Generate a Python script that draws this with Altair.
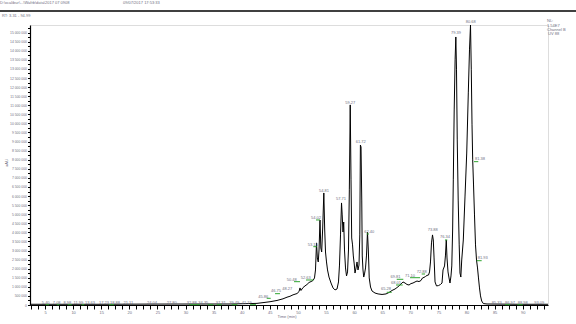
import altair as alt
import pandas as pd

# ---- chromatogram trace (time in min, intensity in millions of uAU) ----
trace_time = [2.33, 7.67, 14.79, 23.68, 32.58, 37.92, 41.48, 42.72, 43.79, 45.04,
              46.28, 47.35, 48.06, 48.59, 49.13, 49.84, 50.20, 50.37, 50.55, 50.91,
              51.26, 51.62, 51.98, 52.33, 52.69, 52.95, 53.13, 53.31, 53.46, 53.62,
              53.76, 53.93, 54.08, 54.23, 54.41, 54.61, 54.77, 54.91, 55.09, 55.27,
              55.53, 55.89, 56.25, 56.60, 56.96, 57.22, 57.40, 57.58, 57.76, 57.88,
              58.02, 58.15, 58.29, 58.47, 58.65, 58.83, 59.00, 59.15, 59.31, 59.45,
              59.57, 59.72, 59.86, 60.02, 60.16, 60.34, 60.52, 60.69, 60.87, 61.01,
              61.12, 61.23, 61.36, 61.45, 61.58, 61.71, 61.85, 62.03, 62.21, 62.38,
              62.53, 62.69, 62.92, 63.19, 63.72, 64.26, 64.97, 65.68, 66.21, 66.74,
              67.28, 67.63, 67.99, 68.35, 68.70, 69.06, 69.41, 69.77, 70.12, 70.48,
              70.84, 71.19, 71.55, 71.90, 72.17, 72.44, 72.70, 72.97, 73.24, 73.42,
              73.59, 73.77, 73.95, 74.09, 74.22, 74.40, 74.66, 75.02, 75.37, 75.64,
              75.82, 76.09, 76.26, 76.40, 76.53, 76.71, 76.89, 77.06, 77.24, 77.38,
              77.53, 77.65, 77.81, 77.97, 78.10, 78.22, 78.35, 78.52, 78.70, 78.84,
              78.99, 79.15, 79.43, 79.73, 80.04, 80.32, 80.53, 80.71, 80.85, 80.98,
              81.10, 81.25, 81.42, 81.60, 81.78, 81.96, 82.13, 82.31, 82.49, 82.70,
              82.99, 83.65, 89.52, 94.50]
trace_uau_m = [0.04, 0.04, 0.04, 0.05, 0.055, 0.055, 0.08, 0.09, 0.13, 0.18,
               0.25, 0.34, 0.43, 0.48, 0.56, 0.63, 0.74, 0.94, 0.80, 0.96,
               1.05, 1.13, 1.24, 1.29, 1.35, 1.49, 1.93, 3.42, 2.59, 2.37,
               3.03, 4.68, 3.14, 2.92, 4.24, 6.17, 4.13, 2.92, 2.37, 1.93,
               1.54, 1.21, 0.94, 0.83, 0.88, 1.27, 2.20, 3.86, 5.62, 4.96,
               4.02, 4.57, 3.03, 2.04, 1.60, 1.82, 3.03, 6.34, 11.02, 6.89,
               3.69, 3.31, 2.70, 2.26, 1.76, 2.04, 2.37, 1.93, 2.20, 3.86,
               8.81, 8.70, 5.78, 2.70, 1.93, 1.54, 1.71, 2.04, 2.75, 4.02,
               3.03, 1.49, 0.99, 0.77, 0.66, 0.61, 0.58, 0.61, 0.69, 0.80,
               0.88, 0.96, 1.05, 1.16, 1.27, 1.21, 1.13, 1.10, 1.18, 1.21,
               1.27, 1.32, 1.29, 1.35, 1.49, 1.52, 1.57, 1.63, 1.65, 1.82,
               2.37, 3.42, 3.86, 3.58, 2.64, 1.27, 1.05, 1.07, 1.13, 1.21,
               1.93, 2.15, 2.75, 3.58, 2.59, 1.82, 1.49, 1.21, 1.60, 2.15,
               4.13, 6.89, 10.74, 13.50, 14.76, 12.95, 9.09, 5.78, 3.31, 1.76,
               1.54, 2.48, 3.58, 5.95, 8.37, 11.68, 14.05, 15.42, 12.95, 9.92,
               7.99, 6.61, 4.96, 3.31, 2.48, 2.04, 1.49, 0.94, 0.50, 0.22,
               0.08, 0.055, 0.04, 0.04]

# ---- peak labels ----
label_text = ["5.40", "7.08", "8.98", "11.99", "13.63", "17.23", "18.88", "21.11", "24.04",
              "27.80", "32.88", "34.35", "37.31", "39.49", "41.19", "45.86", "46.75", "48.27",
              "50.48", "52.63", "53.13", "54.02", "54.81", "57.71", "59.27", "61.72", "62.40",
              "65.28", "68.01", "69.81", "71.10", "72.88", "73.88", "76.34", "79.39", "80.68",
              "81.38", "81.93", "85.33", "86.97", "88.98", "93.09"]
label_time = [5.12, 7.08, 8.97, 10.93, 13.01, 15.50, 17.46, 19.82, 24.04,
              27.54, 31.10, 33.17, 36.26, 38.68, 40.89, 43.84, 46.10, 48.10,
              48.90, 51.39, 52.63, 53.22, 54.64, 57.67, 59.32, 61.17, 62.70,
              65.68, 67.46, 67.37, 69.95, 72.03, 73.99, 76.17, 78.13, 80.75,
              82.40, 82.88, 85.37, 87.74, 90.00, 92.95]
label_uau_m = [0.127, 0.127, 0.127, 0.127, 0.127, 0.127, 0.127, 0.127, 0.127,
               0.127, 0.127, 0.127, 0.127, 0.127, 0.127, 0.457, 0.744, 0.90,
               1.377, 1.504, 3.305, 4.809, 6.280, 5.823, 11.11, 8.996, 4.038,
               0.865, 1.229, 1.526, 1.598, 1.834, 4.132, 3.730, 14.97, 15.61,
               8.027, 2.573, 0.127, 0.127, 0.127, 0.127]

# ---- green peak markers ----
mark_start = [5.12, 7.08, 9.04, 11.53, 16.39, 30.62, 33.95, 35.55, 38.22, 41.48,
              44.45, 45.93, 49.31, 51.44, 52.74, 53.22, 62.24, 65.80, 67.46, 67.58,
              69.95, 72.03, 76.17, 81.33, 81.81, 86.85, 89.04]
mark_end = [5.71, 7.54, 9.75, 11.99, 17.28, 32.58, 34.95, 36.44, 39.22, 42.54,
            45.16, 46.81, 50.37, 52.74, 53.35, 53.93, 62.65, 66.69, 68.65, 68.75,
            71.73, 72.62, 76.58, 82.10, 82.70, 87.74, 90.00]
mark_uau_m = [0.017, 0.017, 0.017, 0.017, 0.017, 0.017, 0.017, 0.017, 0.017, 0.017,
              0.369, 0.623, 1.284, 1.377, 3.212, 4.683, 3.911, 0.700, 1.102, 1.416,
              1.504, 1.708, 3.581, 7.894, 2.440, 0.017, 0.017]

# ---- axes ----
x_tick_labels = [5, 10, 15, 20, 25, 30, 35, 40, 45, 50, 55, 60, 65, 70, 75, 80, 85, 90]
x_minor_step = 1.25
y_label_step = 500000
y_minor_step = 250000
x_domain = [2.33, 94.5]
y_domain = [0, 15420000]

x_tick_values = [2.5 + x_minor_step * i for i in range(74)]
y_tick_values = [y_minor_step * i for i in range(62)]

trace = pd.DataFrame({"t": trace_time, "v": [v * 1e6 for v in trace_uau_m]})
labels = pd.DataFrame({"t": label_time, "v": [v * 1e6 for v in label_uau_m], "txt": label_text})
marks = pd.DataFrame({"t": mark_start, "t2": mark_end, "v": [v * 1e6 for v in mark_uau_m]})

FONT = "Liberation Sans"
TXT = "#6f6f82"

xscale = alt.Scale(domain=x_domain, nice=False, zero=False)
yscale = alt.Scale(domain=y_domain, nice=False, zero=True)

xaxis = alt.Axis(values=x_tick_values, labelExpr="datum.value % 5 == 0 ? datum.value : ''",
                 title=None, grid=False, tickSize=4, tickColor="black", domainColor="black",
                 domainWidth=1.2, tickWidth=1, labelFontSize=4, labelFont=FONT, labelColor=TXT,
                 labelPadding=1, labelOverlap=False, labelFlush=False, labelBound=False)
yaxis = alt.Axis(values=y_tick_values,
                 labelExpr="datum.value % 500000 == 0 ? replace(replace(format(datum.value, ','), ',', ' '), ',', ' ') : ''",
                 title=None, grid=False, tickSize=2.5, tickColor="black", domainColor="black",
                 domainWidth=1.2, tickWidth=1, labelFontSize=3.4, labelFont=FONT, labelColor=TXT,
                 labelPadding=1, labelOverlap=False, labelFlush=False, labelBound=False)

X = alt.X("t:Q", scale=xscale, axis=xaxis)
Y = alt.Y("v:Q", scale=yscale, axis=yaxis)

line = alt.Chart(trace).mark_line(color="black", strokeWidth=1, clip=False).encode(x=X, y=Y)

green = alt.Chart(marks).mark_rule(color="#2fa52f", strokeWidth=1).encode(x=X, x2="t2:Q", y=Y)

ptext = alt.Chart(labels).mark_text(fontSize=4, font=FONT, color=TXT, baseline="middle",
                                    align="center").encode(x=X, y=Y, text="txt:N")


def note(txt, x, y, align="left", angle=0, size=4):
    return alt.Chart(pd.DataFrame({"s": [txt]})).mark_text(
        fontSize=size, font=FONT, color=TXT, align=align, baseline="middle", angle=angle
    ).encode(x=alt.value(x), y=alt.value(y), text="s:N")


top_rule = alt.Chart(pd.DataFrame({"a": [0]})).mark_rule(color="black", strokeWidth=1.3).encode(
    x=alt.value(-30), x2=alt.value(546), y=alt.value(-14)
)

chart = alt.layer(
    line, green, ptext, top_rule,
    note("D:\\xcalibur\\...\\Wafrb\\data\\2017 07 0908", -30, -22),
    note("09/07/2017 17:53:33", 93, -22),
    note("RT: 3.31 - 94.99", -28, -9),
    note("NL:", 517, -4),
    note("1.54E7", 517, 0.5),
    note("Channel B", 517, 4.8),
    note("UV 88", 518, 9),
    note("uAU", -23, 138, align="center", angle=270),
    note("Time (min)", 257, 291.5, align="center"),
).properties(
    width=518, height=280,
    autosize=alt.AutoSizeParams(type="none"),
    padding={"left": 30, "top": 25, "right": 28, "bottom": 19},
).configure_view(strokeWidth=0).configure(background="white")

chart.save("out.html", embed_options={"renderer": "svg", "actions": False})
